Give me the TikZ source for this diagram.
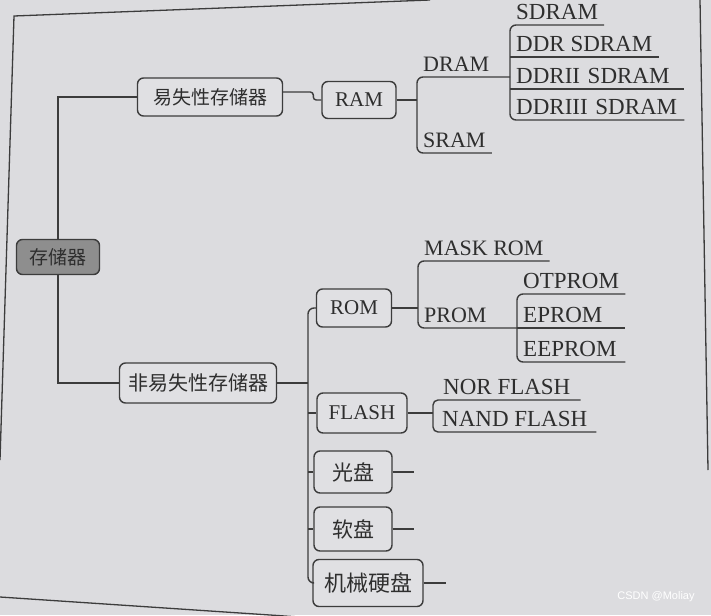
\documentclass[tikz,border=0pt]{standalone}
\usepackage{fontspec}
\setmainfont{Liberation Serif}
\newfontfamily\cjk{Noto Sans CJK SC}
\newfontfamily\wmfont{Liberation Sans}
\usetikzlibrary{calc}
\definecolor{paper}{HTML}{DCDCDF}
\definecolor{boxfill}{HTML}{E0E0E3}
\definecolor{rootfill}{HTML}{8E8E8E}
\definecolor{ink}{HTML}{2E2E2E}
\definecolor{linec}{HTML}{3C3C3C}
\tikzset{
  conn/.style={draw=linec, line width=1.4pt},
  framec/.style={draw=linec, line width=1.3pt},
  cbox/.style={draw=linec, line width=1.4pt, rounded corners=6pt, fill=boxfill, text=ink, inner sep=0pt, font=\cjk\fontsize{19}{19}\selectfont},
  lbox/.style={draw=linec, line width=1.4pt, rounded corners=6pt, fill=boxfill, text=ink, inner sep=0pt, font=\fontsize{21}{21}\selectfont},
  leaf/.style={anchor=south west, inner xsep=6pt, inner ysep=5.5pt, text depth=0pt, text=ink, font=\fontsize{22}{22}\selectfont},
  leaftwo/.style={leaf, font=\fontsize{23}{23}\selectfont},
}
\begin{document}
\begin{tikzpicture}[x=1pt,y=-1pt]
\useasboundingbox (0,0) rectangle (711,615);
\fill[paper] (0,0) rectangle (711,615);
\begin{scope}
\clip (0,0) rectangle (711,615);
\draw[framec] (430,0) -- (14,16) -- (0,460);
\draw[framec] (700,0) -- (708,470);
\draw[framec] (0,597) -- (300,617);
\end{scope}

% boxes
\node[cbox, fill=rootfill, minimum width=83pt, minimum height=35pt] (root) at (58,257) {存储器};
\node[cbox, minimum width=145pt, minimum height=38pt] (vol) at (210,97) {易失性存储器};
\node[cbox, minimum width=157pt, minimum height=40pt, font=\cjk\fontsize{20}{20}\selectfont] (nonvol) at (198,383) {非易失性存储器};
\node[lbox, minimum width=74pt, minimum height=37pt] (ram) at (359,100) {RAM};
\node[lbox, minimum width=75pt, minimum height=38pt] (rom) at (354,308) {ROM};
\node[lbox, minimum width=90pt, minimum height=40pt] (flash) at (362,413) {FLASH};
\node[cbox, minimum width=78pt, minimum height=42pt, font=\cjk\fontsize{21}{21}\selectfont] (gp) at (353,472) {光盘};
\node[cbox, minimum width=78pt, minimum height=44pt, font=\cjk\fontsize{21}{21}\selectfont] (rp) at (353,529) {软盘};
\node[cbox, minimum width=110pt, minimum height=47pt, font=\cjk\fontsize{22}{22}\selectfont] (hdd) at (368,583) {机械硬盘};

% leaves
\node[leaf] (dram) at (417,77) {DRAM};
\node[leaf] (sram) at (417,153) {SRAM};
\node[leaftwo] (sdram) at (510,25) {SDRAM};
\node[leaftwo] (ddr) at (510,57) {DDR SDRAM};
\node[leaftwo, text width=162pt, align=left] (ddr2) at (510,89) {DDRII SDRAM};
\node[leaftwo, text width=162pt, align=left] (ddr3) at (510,120) {DDRIII SDRAM};
\node[leaf] (mask) at (418,261) {MASK ROM};
\node[leaf] (prom) at (418,328) {PROM};
\node[leaftwo, text width=96pt, align=left] (otprom) at (517,294) {OTPROM};
\node[leaftwo, text width=96pt, align=left] (eprom) at (517,328) {EPROM};
\node[leaftwo, text width=96pt, align=left] (eeprom) at (517,362) {EEPROM};
\node[leaftwo, inner xsep=10pt] (nor) at (433,400) {NOR FLASH};
\node[leaftwo, inner xsep=9pt] (nand) at (433,432) {NAND FLASH};

% connectors
\draw[conn] (root.north) |- (vol.west);
\draw[conn] (root.south) |- (nonvol.west);
\draw[conn, rounded corners=3pt] ($(vol.east)+(0,-5)$) -| ($(ram.west)+(-8,0)$) -- (ram.west);
\draw[conn] (ram.east) -- (ram.east -| dram.south west);
\draw[conn, rounded corners=6pt] (dram.south west -| sdram.south west) -- (dram.south west) -- (sram.south west) -- (sram.south east);
\draw[conn, rounded corners=6pt] (sdram.south east) -- (sdram.south west) -- (ddr3.south west) -- (ddr3.south east);
\draw[conn] (ddr.south west) -- (ddr.south east);
\draw[conn] (ddr2.south west) -- (ddr2.south east);

\coordinate (nvb) at (308,383);
\draw[conn] (nonvol.east) -- (nvb);
\draw[conn, rounded corners=6pt] (rom.west) -- (rom.west -| nvb) -- (hdd.west -| nvb) -- (hdd.west);
\draw[conn] (flash.west -| nvb) -- (flash.west);
\draw[conn] (gp.west -| nvb) -- (gp.west);
\draw[conn] (rp.west -| nvb) -- (rp.west);
\coordinate (gpend) at ($(gp.east)+(21,0)$);
\coordinate (rpend) at ($(rp.east)+(21,0)$);
\coordinate (hddend) at ($(hdd.east)+(22,0)$);
\draw[conn] (gp.east) -- (gpend);
\draw[conn] (rp.east) -- (rpend);
\draw[conn] (hdd.east) -- (hddend);

\draw[conn] (rom.east) -- (rom.east -| mask.south west);
\draw[conn, rounded corners=6pt] (mask.south east) -- (mask.south west) -- (prom.south west) -- (prom.south west -| otprom.south west);
\draw[conn, rounded corners=6pt] (otprom.south east) -- (otprom.south west) -- (eeprom.south west) -- (eeprom.south east);
\draw[conn] (eprom.south west) -- (eprom.south east);

\draw[conn] (flash.east) -- (flash.east -| nor.south west);
\draw[conn, rounded corners=5pt] (nor.south east) -- (nor.south west) -- (nand.south west) -- (nand.south east);

% watermark
\node[font=\wmfont\fontsize{11}{11}\selectfont, text=white] (wm) at (656,597) {CSDN @Moliay};
\end{tikzpicture}
\end{document}
